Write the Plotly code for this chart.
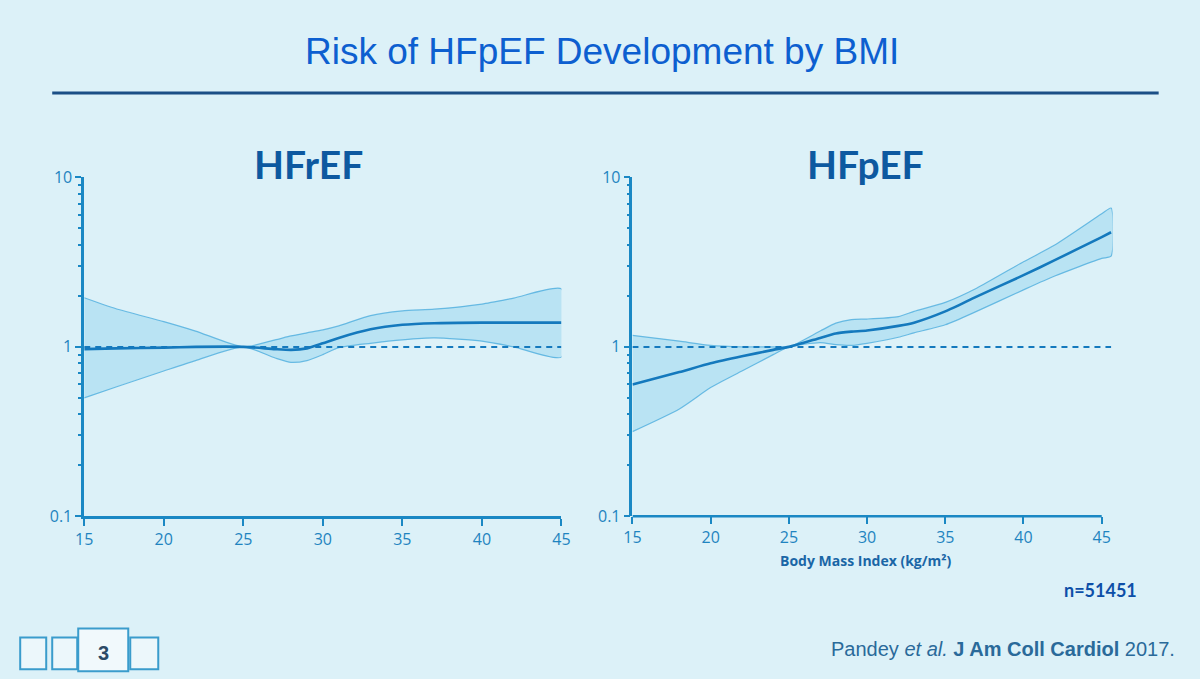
import plotly.graph_objects as go

# ---------------- data ----------------
bmi_hfref = [15, 17, 20, 22, 25, 27, 28, 29, 30, 31, 33, 35, 37, 40, 42, 45]
hfref_hr = [0.97, 0.98, 0.99, 1.0, 1.0, 0.97, 0.96, 0.98, 1.05, 1.13, 1.27, 1.35, 1.38, 1.39, 1.39, 1.39]
hfref_upper = [1.95, 1.68, 1.41, 1.24, 1.0, 1.10, 1.16, 1.21, 1.26, 1.33, 1.53, 1.63, 1.67, 1.79, 1.94, 2.2]
hfref_lower = [0.50, 0.58, 0.72, 0.83, 1.0, 0.86, 0.81, 0.83, 0.90, 0.99, 1.05, 1.10, 1.13, 1.08, 1.0, 0.87]

bmi_hfpef = [15, 18, 20, 22, 24, 25, 27, 28, 29, 30, 32, 33, 35, 37, 40, 42, 45, 45.6]
hfpef_hr = [0.60, 0.71, 0.80, 0.88, 0.96, 1.0, 1.13, 1.20, 1.23, 1.25, 1.33, 1.39, 1.62, 1.98, 2.65, 3.25, 4.45, 4.75]
hfpef_upper = [1.17, 1.08, 1.02, 1.0, 1.0, 1.0, 1.24, 1.38, 1.45, 1.46, 1.51, 1.62, 1.83, 2.22, 3.18, 3.99, 6.1, 6.6]
hfpef_lower = [0.316, 0.43, 0.575, 0.72, 0.90, 1.0, 1.06, 1.03, 1.02, 1.05, 1.14, 1.21, 1.35, 1.62, 2.17, 2.62, 3.33, 3.43]

x_ticks = [15, 20, 25, 30, 35, 40, 45]
y_ticks = [0.1, 1, 10]
y_tick_labels = ["0.1", "1", "10"]
panel_titles = ["HFrEF", "HFpEF"]

# ---------------- styling ----------------
W, H = 1200, 679
BG = "#dcf1f8"
AXIS = "#1a88c4"
LINE = "#1479bd"
BAND_FILL = "rgba(120,200,235,0.35)"
BAND_EDGE = "rgba(70,170,220,0.75)"
TICKFONT = dict(family="Open Sans, Lato, sans-serif", size=16, color="#1f84c0")

# the captured picture shows the page slightly inset; map target picture pixels to page pixels
SX, OX = 0.9846, 8.8
SY, OY = 0.974, 9.4


def px(x):
    return ((x - OX) / SX) / W


def py(y):
    return 1 - ((y - OY) / SY) / H


fig = go.Figure()

panels = [
    dict(x=bmi_hfref, hr=hfref_hr, up=hfref_upper, lo=hfref_lower, xa="x", ya="y", xend=45),
    dict(x=bmi_hfpef, hr=hfpef_hr, up=hfpef_upper, lo=hfpef_lower, xa="x2", ya="y2", xend=45.6),
]

for p in panels:
    fig.add_trace(go.Scatter(
        x=p["x"] + p["x"][::-1], y=p["up"] + p["lo"][::-1],
        fill="toself", fillcolor=BAND_FILL, mode="lines",
        line=dict(color=BAND_EDGE, width=1.2, shape="spline", smoothing=0.6),
        xaxis=p["xa"], yaxis=p["ya"], showlegend=False, hoverinfo="skip"))
    fig.add_trace(go.Scatter(
        x=[15, p["xend"]], y=[1, 1], mode="lines",
        line=dict(color=LINE, width=2, dash="6px,5px"),
        xaxis=p["xa"], yaxis=p["ya"], showlegend=False, hoverinfo="skip"))
    fig.add_trace(go.Scatter(
        x=p["x"], y=p["hr"], mode="lines",
        line=dict(color=LINE, width=2.6, shape="spline", smoothing=0.6),
        xaxis=p["xa"], yaxis=p["ya"], showlegend=False))

y_top, y_bot = 177, 518
common_x = dict(tickvals=x_ticks, ticks="outside", ticklen=7, tickwidth=2, tickcolor=AXIS,
                showgrid=False, zeroline=False, tickfont=TICKFONT, fixedrange=True)
common_y = dict(type="log", range=[-1, 1], tickvals=y_ticks, ticktext=y_tick_labels,
                ticks="outside", ticklen=6, tickwidth=2, tickcolor=AXIS,
                showline=True, linecolor=AXIS, linewidth=2.5, showgrid=False, zeroline=False,
                tickfont=TICKFONT, fixedrange=True,
                minor=dict(tickvals=[0.2, 0.3, 0.4, 0.5, 0.6, 0.7, 0.8, 0.9, 2, 3, 4, 5, 6, 7, 8, 9],
                           ticks="outside", ticklen=3, tickcolor=AXIS, tickwidth=1.5))

fig.update_layout(
    width=W, height=H, margin=dict(l=0, r=0, t=0, b=0),
    paper_bgcolor=BG, plot_bgcolor="rgba(0,0,0,0)",
    xaxis=dict(domain=[px(84), px(561)], range=[15, 45], anchor="y",
               showline=True, linecolor=AXIS, linewidth=2.5, **common_x),
    yaxis=dict(domain=[py(y_bot), py(y_top)], anchor="x", **common_y),
    xaxis2=dict(domain=[px(632), px(1112)], range=[15, 45.7], anchor="y2",
                showline=False, **common_x),
    yaxis2=dict(domain=[py(y_bot), py(y_top)], anchor="x2", **common_y),
)

fig.add_shape(type="line", xref="x2", yref="paper", x0=15, x1=45, y0=py(y_bot), y1=py(y_bot),
              line=dict(color=AXIS, width=2.5))

fig.add_shape(type="line", xref="paper", yref="paper", x0=px(52), x1=px(1158), y0=py(92), y1=py(92),
              line=dict(color="#1b4f86", width=3))

for (x0, x1, y0, y1) in [(20, 46, 640, 672), (52, 77, 640, 672), (130, 158, 640, 672)]:
    fig.add_shape(type="rect", xref="paper", yref="paper", x0=px(x0), x1=px(x1), y0=py(y1), y1=py(y0),
                  line=dict(color="#3a9ccc", width=2), fillcolor="rgba(255,255,255,0.45)")
fig.add_shape(type="rect", xref="paper", yref="paper", x0=px(78), x1=px(128), y0=py(674), y1=py(631),
              line=dict(color="#3a9ccc", width=2), fillcolor="rgba(255,255,255,0.6)")


def note(x, y, text, font, xanchor="center"):
    fig.add_annotation(x=px(x), y=py(y), xref="paper", yref="paper", text=text, showarrow=False,
                       xanchor=xanchor, yanchor="middle", font=font)


note(103, 656, "<b>3</b>", dict(family="Liberation Sans, Arial, sans-serif", size=20, color="#2b4a66"))

note(602, 50, "Risk of HFpEF Development by BMI",
     dict(family="Liberation Sans Narrow, Arial Narrow, Liberation Sans, sans-serif", size=37, color="#0d5fd0"))

for cx, t in zip([308, 865], panel_titles):
    note(cx, 163, f"<b>{t}</b>", dict(family="Lato, Open Sans, sans-serif", size=39, color="#0d59a0"))

note(865, 563, "<b>Body Mass Index (kg/m²)</b>",
     dict(family="Open Sans, Lato, sans-serif", size=14, color="#1a66a6"))

note(1100, 592, "<b>n=51451</b>", dict(family="Lato, Open Sans, sans-serif", size=18, color="#0d4fa8"))

note(1176, 652, "Pandey <i>et al.</i> <b>J Am Coll Cardiol</b> 2017.",
     dict(family="Liberation Sans Narrow, Arial Narrow, Liberation Sans, sans-serif", size=20, color="#2a6a9a"),
     xanchor="right")

post = (
    "document.documentElement.style.margin='0';document.documentElement.style.padding='0';"
    "document.documentElement.style.overflow='hidden';"
    "document.body.style.margin='0';document.body.style.padding='0';document.body.style.overflow='hidden';"
    "document.body.style.background='" + BG + "';"
    "var d=document.getElementById('{plot_id}');d.style.position='fixed';d.style.left='0px';d.style.top='0px';"
)

fig.write_html("out.html", config={"displayModeBar": False}, post_script=post)
